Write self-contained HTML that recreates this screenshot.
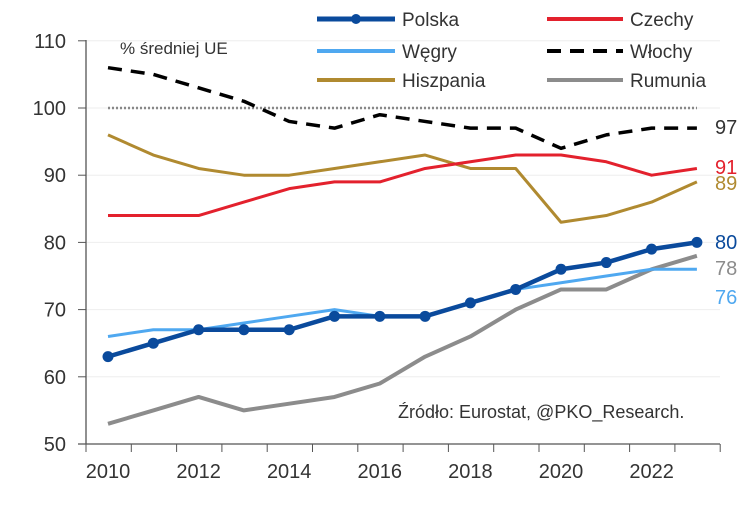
<!DOCTYPE html>
<html><head><meta charset="utf-8"><style>
body{margin:0;background:#fff}
svg text{font-family:"Liberation Sans",sans-serif}
</style></head><body>
<svg id="s" width="756" height="504" xmlns="http://www.w3.org/2000/svg">
<g id="grid"></g>
<line x1="86" y1="40" x2="86" y2="444" stroke="#555" stroke-width="1.3"/>
<line x1="78" y1="444" x2="720" y2="444" stroke="#555" stroke-width="1.3"/>
<g id="ticks"></g>
<g id="series"></g>
<text x="120" y="54" font-size="17" fill="#333">% średniej UE</text>
<g font-size="19" fill="#333">
<line x1="317" y1="19" x2="395" y2="19" stroke="#0a4a9c" stroke-width="5"/><circle cx="356" cy="19" r="5" fill="#0a4a9c"/>
<text x="402" y="26">Polska</text>
<line x1="317" y1="51" x2="395" y2="51" stroke="#4fa8f0" stroke-width="4"/><text x="402" y="58">Węgry</text>
<line x1="317" y1="80" x2="395" y2="80" stroke="#b08a30" stroke-width="4"/><text x="402" y="87">Hiszpania</text>
<line x1="547" y1="19" x2="623" y2="19" stroke="#e3212d" stroke-width="4"/><text x="630" y="26">Czechy</text>
<line x1="547" y1="51" x2="623" y2="51" stroke="#000" stroke-width="4" stroke-dasharray="14,9"/><text x="630" y="58">Włochy</text>
<line x1="547" y1="80" x2="623" y2="80" stroke="#8c8c8c" stroke-width="4"/><text x="630" y="87">Rumunia</text>
</g>
<g font-size="20">
<text x="715" y="134" fill="#333">97</text>
<text x="715" y="174" fill="#e3212d">91</text>
<text x="715" y="190" fill="#b08a30">89</text>
<text x="715" y="249" fill="#0a4a9c">80</text>
<text x="715" y="275" fill="#8c8c8c">78</text>
<text x="715" y="304" fill="#4fa8f0">76</text>
</g>
<text x="398" y="418" font-size="18" fill="#333">Źródło: Eurostat, @PKO_Research.</text>
</svg>
<script>
var NS="http://www.w3.org/2000/svg";
function X(i){return 108+45.3*i}
function Y(v){return 444-(v-50)*6.72}
function el(p,t,a){var e=document.createElementNS(NS,t);for(var k in a)e.setAttribute(k,a[k]);document.getElementById(p).appendChild(e);return e}
for(var v=50;v<=110;v+=10){var y=Y(v);
 if(v>50)el("grid","line",{x1:86,y1:y,x2:720,y2:y,stroke:"#eee","stroke-width":1});
 el("ticks","line",{x1:78,y1:y,x2:86,y2:y,stroke:"#555"});
 var t=el("ticks","text",{x:66,y:y+7,"font-size":20,fill:"#333","text-anchor":"end"});t.textContent=v;}
for(var i=0;i<=14;i++){var x=86+45.3*i;el("ticks","line",{x1:x,y1:444,x2:x,y2:452,stroke:"#555"});}
for(var yr=2010;yr<=2022;yr+=2){var t=el("ticks","text",{x:X(yr-2010),y:478,"font-size":20,fill:"#333","text-anchor":"middle"});t.textContent=yr;}
el("series","line",{x1:108,y1:Y(100),x2:697,y2:Y(100),stroke:"#888","stroke-width":2.5,"stroke-dasharray":"2,2"});
function line(d,c,w,dash){var p=d.map(function(v,i){return X(i)+","+Y(v)}).join(" ");var a={points:p,fill:"none",stroke:c,"stroke-width":w,"stroke-linejoin":"round"};if(dash)a["stroke-dasharray"]=dash;el("series","polyline",a);}
line([53,55,57,55,56,57,59,63,66,70,73,73,76,78],"#8c8c8c",4);
line([96,93,91,90,90,91,92,93,91,91,83,84,86,89],"#b08a30",3);
line([84,84,84,86,88,89,89,91,92,93,93,92,90,91],"#e3212d",3);
line([106,105,103,101,98,97,99,98,97,97,94,96,97,97],"#000",3.5,"14,9");
line([66,67,67,68,69,70,69,69,71,73,74,75,76,76],"#4fa8f0",3);
var pl=[63,65,67,67,67,69,69,69,71,73,76,77,79,80];
line(pl,"#0a4a9c",4.5);
pl.forEach(function(v,i){el("series","circle",{cx:X(i),cy:Y(v),r:5.5,fill:"#0a4a9c"})});
</script>
</body></html>
